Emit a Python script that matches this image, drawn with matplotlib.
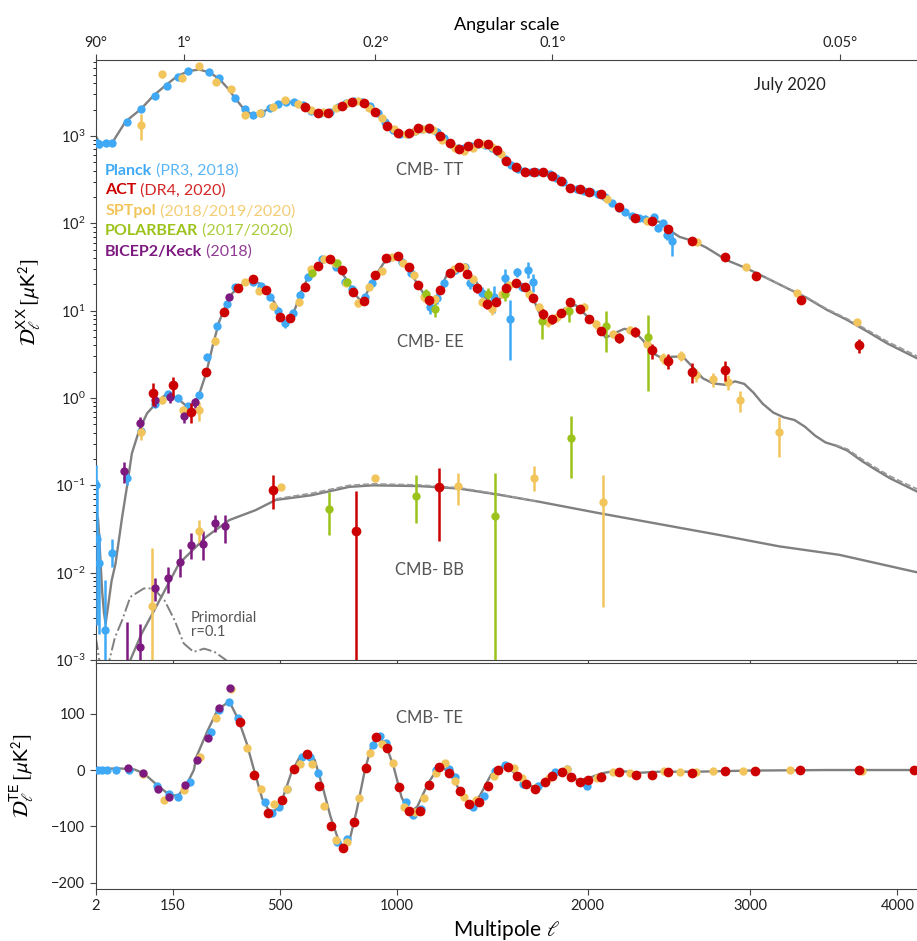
import numpy as np
import matplotlib.pyplot as plt

plt.rcParams['font.family'] = ['Lato', 'DejaVu Sans']
plt.rcParams['mathtext.fontset'] = 'stixsans'

# experiment colours
c_planck = '#3fa9f5'
c_act = '#cc0000'
c_spt = '#f2c55c'
c_pb = '#9cc31b'
c_bk = '#7d1a80'
c_model = '#808080'

# ---------------- theory curves ----------------
tt_ell = [2, 5, 13, 23, 43, 73, 102, 133, 163, 195, 225, 256, 287, 313, 340, 370, 400, 430, 465,
          505, 536, 575, 615, 656, 698, 741, 784, 827, 864, 903, 950, 1000, 1040, 1090, 1135, 1180,
          1210, 1260, 1310, 1355, 1405, 1455, 1510, 1550, 1595, 1650, 1745, 1800, 1845, 1895, 1951,
          2010, 2066, 2125, 2185, 2245, 2304, 2365, 2425, 2485, 2549, 2630, 2715, 2845, 2975, 3100,
          3235, 3370, 3510, 3650, 3790, 3930, 4140]
tt_model = [1000, 846, 803, 885, 1460, 2020, 2900, 3840, 4860, 5550, 5750, 5360, 4500, 3580, 2700,
            2020, 1740, 1820, 2110, 2410, 2470, 2325, 1985, 1820, 1870, 2170, 2430, 2520, 2370, 1930,
            1395, 1100, 1030, 1140, 1220, 1170, 980, 800, 700, 755, 800, 755, 640, 520, 427, 391, 391,
            357, 305, 256, 241, 230, 215, 180, 149, 125, 114, 111, 104, 84, 70, 63, 53, 38, 30.5, 23.9,
            18.3, 14.1, 10.2, 7.8, 5.75, 4.2, 2.85]
tt_alt_ell = [3100, 3235, 3370, 3510, 3650, 3790, 3930, 4140]
tt_alt = [23.9, 18.4, 14.3, 10.45, 8.05, 6.0, 4.42, 3.02]

ee_ell = [2, 3, 4, 5, 6, 8, 10, 12, 15, 20, 26, 37, 46, 55, 70, 87, 108, 133, 163, 189, 208, 225,
          246, 268, 287, 309, 330, 364, 400, 435, 465, 497, 522, 541, 560, 587, 615, 650, 690, 732,
          774, 812, 834, 857, 898, 937, 978, 1009, 1050, 1095, 1135, 1170, 1198, 1240, 1285, 1335,
          1390, 1440, 1485, 1535, 1560, 1617, 1670, 1724, 1760, 1805, 1870, 1930, 1990, 2055, 2105,
          2155, 2215, 2275, 2325, 2385, 2445, 2505, 2570, 2630, 2695, 2760, 2845, 2900, 2960, 3020,
          3080, 3150, 3220, 3290, 3360, 3430, 3500, 3570, 3650, 3750, 3850, 3950, 4050, 4140]
ee_model = [0.03, 0.045, 0.04, 0.025, 0.015, 0.006, 0.0035, 0.0026, 0.004, 0.008, 0.0127, 0.0435,
            0.1, 0.232, 0.43, 0.667, 0.87, 1.11, 0.99, 0.80, 0.83, 1.11, 1.92, 4.2, 7.5, 11.6, 15.8,
            20, 22.4, 19.7, 14.7, 10.2, 7.2, 8.2, 10.6, 17.5, 24.9, 32.5, 38, 31.9, 22.4, 15.1, 13.0,
            15.1, 24.5, 34.8, 41.5, 39.7, 30.5, 20.6, 14.5, 12.1, 15.1, 25.6, 31.9, 30.5, 21.5, 13.8,
            12.1, 15.1, 18.5, 21, 18, 9.75, 7.5, 8.2, 10.6, 11.6, 8.9, 6.6, 4.9, 5.5, 6.2, 5.75, 4.6,
            3.25, 2.84, 2.97, 2.97, 2.28, 1.68, 1.47, 1.41, 1.55, 1.45, 1.15, 0.86, 0.68, 0.6, 0.56,
            0.47, 0.37, 0.31, 0.285, 0.25, 0.19, 0.15, 0.12, 0.1, 0.085]
ee_alt_ell = [3570, 3650, 3750, 3850, 3950, 4050, 4140]
ee_alt = [0.29, 0.26, 0.2, 0.158, 0.127, 0.106, 0.091]

bb_ell = [52, 75, 108, 167, 246, 320, 411, 485, 625, 784, 890, 1105, 1300, 1510, 1724, 2066, 2425,
          2800, 3190, 3595, 4140]
bb_model = [0.001, 0.002, 0.00406, 0.0127, 0.0257, 0.040, 0.052, 0.068, 0.077, 0.096, 0.1, 0.098,
            0.092, 0.078, 0.065, 0.048, 0.036, 0.027, 0.02, 0.016, 0.0101]
bb_alt_ell = [485, 625, 784, 890, 1105, 1300, 1510, 1724]
bb_alt = [0.07, 0.081, 0.1, 0.104, 0.101, 0.094, 0.079, 0.065]

prim_ell = [2, 3, 4, 5, 6, 8, 12, 17, 25, 37, 52, 80, 102, 129, 155, 180, 208, 240, 272, 309, 350]
prim_model = [0.0018, 0.0015, 0.0012, 0.001, 0.0008, 0.0005, 0.0004, 0.001, 0.0018, 0.00286,
              0.00528, 0.0066, 0.0066, 0.0048, 0.00286, 0.00155, 0.00124, 0.00135, 0.00124, 0.001,
              0.0007]

te_ell = [2, 10, 30, 60, 80, 111, 143, 165, 187, 209, 217, 249, 282, 320, 351, 379, 407, 435, 468,
          504, 544, 575, 607, 638, 671, 704, 738, 760, 787, 817, 853, 882, 912, 948, 984, 1021, 1058,
          1096, 1148, 1185, 1220, 1264, 1318, 1363, 1410, 1466, 1521, 1565, 1611, 1662, 1716, 1766,
          1824, 1882, 1941, 2000, 2079, 2171, 2296, 2425, 2650, 2987, 3513, 4140]
te_model = [0.5, 2, 3, 1, -6, -27, -45, -45, -27, 0, 24, 68, 107, 122, 89, 48, -3, -51, -79, -60,
            -6, 21, 31, 18, -30, -83, -125, -137, -122, -71, 0, 42, 61, 45, 6, -48, -76, -65, -24,
            -3, 5, -9, -45, -63, -45, -9, 6, 3, -12, -27, -30, -15, -3, -5, -18, -15, -6, -1, -5, -3,
            -3, -1, 0, 0]

# ---------------- TT band powers ----------------
planck_tt_ell = [3, 5, 12, 20, 46, 74, 105, 135, 165, 192, 255, 285, 340, 373, 400, 430, 465, 495,
                 525, 555, 590, 625, 660, 700, 735, 770, 805, 840, 875, 910, 945, 980, 1015, 1050,
                 1085, 1120, 1155, 1190, 1225, 1260, 1295, 1330, 1365, 1400, 1435, 1470, 1505, 1540,
                 1575, 1610, 1645, 1680, 1715, 1750, 1785, 1820, 1860, 1900, 1940, 1980, 2020, 2060,
                 2100, 2140, 2180, 2220, 2260, 2300, 2340, 2390, 2420, 2450, 2475, 2500]
planck_tt = [830, 810, 824, 839, 1460, 2040, 2900, 3770, 4780, 5550, 5400, 4600, 2700, 2020, 1740,
             1820, 2110, 2350, 2460, 2430, 2250, 1950, 1820, 1880, 2130, 2380, 2500, 2460, 2200,
             1850, 1450, 1170, 1050, 1060, 1130, 1200, 1210, 1120, 940, 800, 720, 720, 775, 800, 790,
             730, 650, 545, 465, 415, 392, 391, 391, 385, 365, 330, 295, 256, 244, 236, 228, 217,
             200, 172, 151, 135, 121, 114, 112, 119, 89, 102, 73, 62]
planck_tt_err = [90, 80, 60, 60, 50, 40, 40, 40, 40, 40, 40, 40, 20, 20, 20, 20, 20, 20, 20, 20, 20,
                 20, 20, 20, 20, 20, 20, 20, 20, 20, 20, 20, 20, 20, 20, 20, 20, 20, 20, 20, 10, 10,
                 10, 10, 10, 10, 10, 10, 10, 10, 10, 10, 10, 10, 10, 10, 8, 8, 8, 8, 8, 8, 8, 6, 6, 6,
                 6, 6, 6, 8, 8, 8, 8, 20]

act_tt_ell = [600, 650, 695, 753, 797, 850, 900, 955, 1005, 1055, 1100, 1155, 1205, 1255, 1300,
              1350, 1400, 1450, 1500, 1545, 1600, 1650, 1700, 1750, 1800, 1850, 1900, 1955, 2005,
              2080, 2180, 2280, 2380, 2480, 2630, 2835, 3035, 3335, 3730]
act_tt = [2170, 1850, 1850, 2225, 2470, 2370, 1870, 1310, 1070, 1070, 1225, 1225, 1010, 840, 710,
          775, 824, 810, 690, 518, 437, 391, 391, 391, 351, 308, 256, 247, 226, 215, 155, 116, 107,
          85, 63.4, 41.2, 25, 13.2, 4.0]
act_tt_err = [20, 20, 20, 20, 20, 20, 20, 15, 15, 15, 15, 15, 15, 10, 10, 10, 10, 10, 10, 8, 8, 8,
              8, 8, 8, 6, 6, 5, 5, 5, 4, 3, 3, 3, 3, 2, 1.5, 1.2, 0.75]

spt_tt_ell = [73, 123, 175, 223, 277, 325, 373, 427, 476, 522, 572, 623, 672, 727, 775, 823, 873,
              930, 985, 1040, 1085, 1125, 1170, 1215, 1280, 1325, 1375, 1425, 1475, 1520, 2110,
              2350, 2660, 2970, 3310, 3720]
spt_tt = [1340, 5080, 4660, 6330, 4120, 3450, 1740, 1830, 2150, 2580, 2325, 1980, 1870, 2070,
          2400, 2520, 2110, 1590, 1200, 1045, 1150, 1200, 1180, 900, 723, 673, 723, 800, 740, 620,
          190, 107, 60.5, 31.9, 16.1, 7.5]
spt_tt_err = [450, 450, 250, 300, 200, 150, 60, 60, 60, 60, 50, 40, 40, 40, 40, 40, 40, 30, 30, 25,
              25, 25, 25, 20, 15, 15, 15, 15, 15, 12, 4, 3, 2, 1.2, 0.8, 0.6]

# ---------------- EE band powers ----------------
planck_ee_ell = [2, 3, 5, 11, 20, 46, 73, 105, 138, 163, 192, 223, 250, 281, 312, 340, 403, 430,
                 462, 493, 522, 551, 577, 612, 670, 729, 765, 797, 854, 885, 957, 1025, 1067, 1135,
                 1160, 1190, 1225, 1280, 1335, 1360, 1420, 1485, 1540, 1570, 1605, 1630, 1665, 1690]
planck_ee = [0.10, 0.024, 0.013, 0.0022, 0.0166, 0.12, 0.42, 0.85, 1.11, 0.99, 0.80, 1.08, 2.92,
             6.7, 11.9, 18.8, 21.1, 19.0, 14.2, 10.0, 7.2, 9.3, 15.1, 24.1, 38.7, 31.3, 21.5, 17.5,
             14.2, 20.9, 39.8, 36.4, 26.7, 15.1, 11.1, 13.8, 20.6, 29.2, 31.9, 20.9, 15.8, 14.4,
             23.9, 8.0, 27.5, 18.8, 29.2, 21.5]
planck_ee_lo = [0.05, 0.0215, 0.011, 0.0018, 0.005, 0.02, 0.04, 0.05, 0.06, 0.06, 0.06, 0.08, 0.2,
                0.4, 0.6, 0.8, 1, 1, 1, 0.8, 0.8, 0.8, 1, 1.2, 1.5, 1.5, 1.5, 1.5, 1.5, 1.5, 2, 2, 2,
                2, 2, 2, 2, 3, 3, 3, 3, 5, 6, 5.3, 3, 2, 5.7, 5]
planck_ee_hi = [0.07, 0.09, 0.015, 0.006, 0.008, 0.02, 0.04, 0.05, 0.06, 0.06, 0.06, 0.08, 0.2,
                0.4, 0.6, 0.8, 1, 1, 1, 0.8, 0.8, 0.8, 1, 1.2, 1.5, 1.5, 1.5, 1.5, 1.5, 1.5, 2, 2, 2,
                2, 2, 2, 2, 3, 3, 3, 3, 5, 6, 5.2, 3, 2, 7, 5]

act_ee_ell = [100, 150, 200, 247, 302, 348, 400, 450, 500, 538, 600, 650, 700, 753, 800, 851, 900,
              950, 1005, 1055, 1100, 1155, 1205, 1255, 1302, 1345, 1395, 1445, 1495, 1545, 1600,
              1650, 1695, 1745, 1800, 1850, 1900, 1955, 2005, 2080, 2180, 2280, 2380, 2480, 2630,
              2835]
act_ee = [1.15, 1.41, 0.70, 2.0, 9.7, 18, 23, 17.3, 8.5, 8.3, 18.8, 32.5, 38.7, 29.2, 16.5, 12.9,
          25.6, 39.7, 42.7, 31.9, 19.7, 13.2, 17.3, 27.2, 31.3, 26.3, 18, 11.9, 12.7, 18, 20.6, 18.8,
          13.8, 9.2, 8.0, 9.5, 12.4, 10.4, 8.0, 5.8, 4.9, 5.75, 3.5, 2.65, 2.0, 2.1]
act_ee_err = [0.35, 0.35, 0.18, 0.2, 0.5, 0.8, 1, 1, 0.8, 0.8, 1, 1.5, 1.5, 1.5, 1.2, 1.2, 1.5, 2,
              2, 2, 1.5, 1.5, 1.5, 2, 2, 2, 2, 1.5, 1.5, 1.5, 1.5, 1.5, 1.2, 1.2, 1, 1, 1, 1, 0.8,
              0.6, 0.6, 0.7, 0.7, 0.5, 0.5, 0.55]

spt_ee_ell = [73, 123, 177, 223, 275, 373, 424, 476, 575, 622, 675, 724, 769, 823, 870, 930, 978,
              1030, 1080, 1130, 1180, 1275, 1325, 1375, 1420, 1470, 1525, 1565, 1670, 1724, 1775,
              1825, 1880, 1980, 2050, 2150, 2250, 2350, 2450, 2560, 2650, 2760, 2855, 2930, 3190]
spt_ee = [0.41, 0.95, 0.72, 0.72, 4.5, 21.1, 16.9, 11.3, 12.4, 29.7, 38.7, 35.5, 20.9, 12.1, 18.8,
          28.4, 40.8, 35.5, 25.6, 14.2, 13.5, 29.7, 31.9, 22.9, 12.7, 10.4, 15.4, 19.7, 15.4, 11.1,
          7.5, 8.5, 10.2, 11.1, 7.0, 5.4, 6.0, 4.2, 2.84, 3.03, 1.83, 1.65, 1.54, 0.95, 0.41]
spt_ee_err = [0.08, 0.1, 0.1, 0.18, 0.5, 1, 1, 1, 1, 1.5, 1.5, 1.5, 1.5, 1.2, 1.2, 1.5, 2, 2, 2,
              1.5, 1.5, 2, 2, 2, 1.5, 1.5, 1.5, 1.5, 1.5, 1.2, 1, 1, 1, 1, 0.8, 0.6, 0.6, 0.5, 0.4,
              0.4, 0.3, 0.3, 0.3, 0.25, 0.2]

pb_ee_ell = [626, 730, 775, 1140, 1180, 1450, 1540, 1740, 1895, 2105, 2355]
pb_ee = [26.7, 35, 21.5, 15.5, 10.4, 15.5, 15.4, 7.7, 10.0, 6.6, 5.0]
pb_ee_err = [2, 2.5, 2, 2, 2, 2.5, 2.5, 3, 2.5, 3.2, 3.8]

bk_ee_ell = [41, 72, 106, 143, 180, 212, 318]
bk_ee = [0.147, 0.52, 0.94, 1.03, 0.62, 0.89, 14.2]
bk_ee_err = [0.04, 0.08, 0.15, 0.15, 0.1, 0.12, 1]

# ---------------- BB band powers (value, lower end, upper end) ----------------
bk_bb_ell = [45, 72, 106, 139, 170, 202, 236, 272, 305]
bk_bb = [0.0004, 0.0014, 0.0066, 0.0086, 0.0133, 0.0207, 0.0212, 0.0366, 0.0344]
bk_bb_low = [0.0001, 0.0005, 0.0047, 0.0058, 0.0089, 0.0142, 0.014, 0.029, 0.022]
bk_bb_high = [0.0027, 0.0026, 0.0088, 0.0115, 0.0185, 0.0288, 0.030, 0.046, 0.046]

spt_bb_ell = [98, 225, 505, 898, 1297, 1700, 2090]
spt_bb = [0.0041, 0.030, 0.096, 0.12, 0.097, 0.12, 0.065]
spt_bb_low = [0.0007, 0.022, 0.088, 0.108, 0.06, 0.085, 0.004]
spt_bb_high = [0.019, 0.040, 0.104, 0.132, 0.14, 0.165, 0.13]

act_bb_ell = [475, 812, 1200]
act_bb = [0.089, 0.03, 0.095]
act_bb_low = [0.054, 0.0001, 0.023]
act_bb_high = [0.13, 0.085, 0.16]

pb_bb_ell = [698, 1090, 1490, 1905]
pb_bb = [0.053, 0.075, 0.045, 0.35]
pb_bb_low = [0.027, 0.037, 0.0001, 0.12]
pb_bb_high = [0.084, 0.13, 0.14, 0.62]

# ---------------- TE band powers ----------------
planck_te_ell = [4, 8, 14, 26, 50, 111, 140, 165, 199, 261, 287, 320, 350, 444, 470, 496, 527, 586,
                 620, 650, 732, 776, 888, 920, 948, 1041, 1075, 1114, 1185, 1250, 1282, 1374, 1430,
                 1490, 1543, 1640, 1720, 1815, 1882, 1995]
planck_te = [0, 0, 0, 0, 0, -29, -43, -48, -21, 68, 107, 120, 92, -57, -77, -65, -33, 24, 24, -6,
             -128, -122, 45, 61, 48, -57, -80, -70, 0, 1, -13, -65, -46, -1, 9, -24, -28, -3, 1, -29]

act_te_ell = [355, 407, 455, 508, 556, 607, 657, 706, 756, 806, 857, 905, 955, 1007, 1055, 1107,
              1153, 1203, 1252, 1305, 1352, 1405, 1450, 1505, 1557, 1605, 1657, 1705, 1756, 1800,
              1855, 1907, 1955, 2000, 2079, 2180, 2282, 2380, 2478, 2628, 2833, 3030, 3326, 3730,
              4120]
act_te = [85, -9, -76, -54, 2, 29, -29, -100, -138, -92, 3, 58, 39, -30, -73, -73, -27, 5, -5, -38,
          -60, -57, -29, 0, 6, -11, -25, -33, -21, -11, -3, -13, -21, -18, -12, -3, -9, -8, -3, -5,
          -2, -1, 0, 0, 0]

spt_te_ell = [78, 128, 181, 228, 278, 326, 379, 429, 479, 527, 577, 628, 678, 728, 776, 828, 877,
              931, 980, 1033, 1083, 1130, 1185, 1233, 1282, 1329, 1390, 1482, 1588, 1635, 1705,
              1780, 1880, 2056, 2150, 2250, 2455, 2553, 2650, 2760, 2950, 3258, 3750]
spt_te = [-7, -54, -35, 24, 92, 144, 39, -33, -61, -33, 11, 11, -63, -125, -127, -49, 31, 46, 12,
          -65, -74, -49, -6, 13, -19, -48, -54, -11, 3, -15, -31, -15, 1, -15, -3, -6, -2, -3, -4,
          -2, -2, 0, -1]

bk_te_ell = [48, 78, 112, 141, 184, 217, 252, 287, 321]
bk_te = [4, -5, -33, -48, -26, 18, 57, 110, 146]

# ---------------- axis helpers ----------------
ell_ticks = [2, 150, 500, 1000, 2000, 3000, 4000]
angle_ticks = [90, 1, 0.2, 0.1, 0.05]
angle_labels = ['90°', '1°', '0.2°', '0.1°', '0.05°']


def fwd(l):
    l = np.asarray(l, dtype=float)
    return np.sign(l) * np.abs(l) ** 0.7


def inv(t):
    t = np.asarray(t, dtype=float)
    return np.sign(t) * np.abs(t) ** (1 / 0.7)


def dots(ax, ell, val, err, color, ms=6.0, z=4):
    ax.errorbar(ell, val, yerr=err, fmt='o', ms=ms, color=color, mew=0,
                elinewidth=1.8, capsize=0, zorder=z)


def bounds(val, low, high):
    v = np.array(val)
    return [v - np.array(low), np.array(high) - v]


fig = plt.figure(figsize=(9.17, 9.41), dpi=100)
ax1 = fig.add_axes([0.1044, 0.2986, 0.8956, 0.6376])
ax2 = fig.add_axes([0.1044, 0.0553, 0.8956, 0.2402])

xmin, xmax = 2, 4140
for ax in (ax1, ax2):
    ax.set_xscale('function', functions=(fwd, inv))
    ax.set_xlim(xmin, xmax)
    ax.set_xticks(ell_ticks)
    ax.spines['right'].set_visible(False)
    for s in ax.spines.values():
        s.set_color('#444444')
    ax.tick_params(colors='#444444', labelcolor='#222222', labelsize=10.5, length=4, width=0.8)
    ax.tick_params(which='minor', length=2.2, width=0.6)

# ---- upper panel
ax1.set_yscale('log')
ax1.set_ylim(1e-3, 7400)
ax1.set_xticklabels([])

ax1.plot(tt_ell, tt_model, color=c_model, lw=1.7, zorder=2)
ax1.plot(tt_alt_ell, tt_alt, color='#9a9a9a', lw=1.2, ls='--', zorder=2)
ax1.plot(ee_ell, ee_model, color=c_model, lw=1.7, zorder=2)
ax1.plot(ee_alt_ell, ee_alt, color='#9a9a9a', lw=1.2, ls='--', zorder=2)
ax1.plot(bb_ell, bb_model, color=c_model, lw=1.7, zorder=2)
ax1.plot(bb_alt_ell, bb_alt, color='#9a9a9a', lw=1.2, ls='--', zorder=2)
ax1.plot(prim_ell, prim_model, color=c_model, lw=1.4, ls='-.', zorder=2)

dots(ax1, planck_tt_ell, planck_tt, planck_tt_err, c_planck)
dots(ax1, planck_ee_ell, planck_ee, [planck_ee_lo, planck_ee_hi], c_planck)
dots(ax1, spt_tt_ell, spt_tt, spt_tt_err, c_spt, z=5)
dots(ax1, spt_ee_ell, spt_ee, spt_ee_err, c_spt, z=5)
dots(ax1, spt_bb_ell, spt_bb, bounds(spt_bb, spt_bb_low, spt_bb_high), c_spt, z=5)
dots(ax1, pb_ee_ell, pb_ee, pb_ee_err, c_pb, z=5)
dots(ax1, pb_bb_ell, pb_bb, bounds(pb_bb, pb_bb_low, pb_bb_high), c_pb, z=5)
dots(ax1, bk_ee_ell, bk_ee, bk_ee_err, c_bk, z=5)
dots(ax1, bk_bb_ell, bk_bb, bounds(bk_bb, bk_bb_low, bk_bb_high), c_bk, z=5)
dots(ax1, act_tt_ell, act_tt, act_tt_err, c_act, ms=7, z=6)
dots(ax1, act_ee_ell, act_ee, act_ee_err, c_act, ms=7, z=6)
dots(ax1, act_bb_ell, act_bb, bounds(act_bb, act_bb_low, act_bb_high), c_act, ms=7, z=6)

ax1.set_ylabel(r'$\mathcal{D}_\ell^{\mathrm{XX}}\,[\mu\mathrm{K}^2]$', fontsize=15)
ax1.yaxis.set_label_coords(-0.066, 0.597)

txt = dict(color='#555555', fontsize=12, ha='center', va='center', transform=ax1.transAxes)
ax1.text(0.407, 0.817, 'CMB- TT', **txt)
ax1.text(0.407, 0.530, 'CMB- EE', **txt)
ax1.text(0.407, 0.150, 'CMB- BB', **txt)
ax1.text(0.116, 0.058, 'Primordial\nr=0.1', color='#555555', fontsize=10.5, ha='left',
         va='center', linespacing=1.0, transform=ax1.transAxes)
ax1.text(0.845, 0.958, 'July 2020', color='#222222', fontsize=12, ha='center', va='center',
         transform=ax1.transAxes)

# legend drawn as coloured text
legend_names = ['Planck', 'ACT', 'SPTpol', 'POLARBEAR', 'BICEP2/Keck']
legend_refs = [' (PR3, 2018)', ' (DR4, 2020)', ' (2018/2019/2020)', ' (2017/2020)', ' (2018)']
legend_cols = [c_planck, c_act, c_spt, c_pb, c_bk]
legend_y = [0.815, 0.783, 0.748, 0.715, 0.680]
for name, ref, col, yy in zip(legend_names, legend_refs, legend_cols, legend_y):
    t = ax1.text(0.0114, yy, name, color=col, fontsize=11.5, fontweight='bold', ha='left',
                 va='center', transform=ax1.transAxes)
    ax1.annotate(ref, xy=(1, 0.5), xycoords=t, color=col, alpha=0.85, fontsize=11.5,
                 ha='left', va='center')

# top axis: angular scale
axt = ax1.twiny()
axt.set_xscale('function', functions=(fwd, inv))
axt.set_xlim(xmin, xmax)
axt.set_xticks([180.0 / a for a in angle_ticks])
axt.set_xticklabels(angle_labels)
axt.tick_params(colors='#444444', labelcolor='#222222', labelsize=10.5, length=4, width=0.8)
for s in axt.spines.values():
    s.set_visible(False)
axt.set_xlabel('Angular scale', fontsize=13, labelpad=4)

# ---- lower panel
ax2.set_ylim(-211, 190)
ax2.set_yticks([100, 0, -100, -200])
ax2.set_xticklabels([str(v) for v in ell_ticks])
ax2.plot(te_ell, te_model, color=c_model, lw=1.7, zorder=2)
dots(ax2, planck_te_ell, planck_te, 3, c_planck)
dots(ax2, spt_te_ell, spt_te, 4, c_spt, z=5)
dots(ax2, bk_te_ell, bk_te, 5, c_bk, z=5)
dots(ax2, act_te_ell, act_te, 3, c_act, ms=7, z=6)
ax2.text(0.407, 0.757, 'CMB- TE', color='#555555', fontsize=12, ha='center', va='center',
         transform=ax2.transAxes)
ax2.set_ylabel(r'$\mathcal{D}_\ell^{\mathrm{TE}}\,[\mu\mathrm{K}^2]$', fontsize=15)
ax2.yaxis.set_label_coords(-0.074, 0.5)
ax2.set_xlabel(r'Multipole $\ell$', fontsize=15, labelpad=3)

fig.savefig('out.png', dpi=100)
